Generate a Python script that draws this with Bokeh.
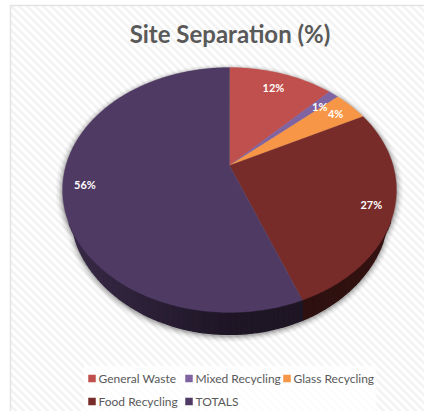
import math
from bokeh.embed import file_html
from bokeh.resources import INLINE
from bokeh.plotting import figure
from bokeh.core.properties import value

TITLE = "Site Separation (%)"
categories = ["General Waste", "Mixed Recycling", "Glass Recycling", "Food Recycling", "TOTALS"]
values = [12.3, 1.2, 4.0, 26.6, 55.9]
labels = ["12%", "1%", "4%", "27%", "56%"]
colors = ["#c0504d", "#8064a2", "#f79646", "#772c2a", "#4f3a63"]
label_radius = [0.82, 0.85, 0.86, 0.87, 0.87]
label_dy = [0, -3, 0, 0, 0]
legend_x = [88, 185, 283, 88, 185]
legend_y = [378, 378, 378, 401, 401]

X0, Y0, X1, Y1 = 0, 0, 424, 411
CX, CY, A, B, K, DEPTH = 229, 165, 163.6, 117.6, 0.2, 22
FONT = "Lato"


def project(r, frac):
    t = 2 * math.pi * frac
    u, v = r * math.sin(t), r * math.cos(t)
    d = 1 + K * v
    return CX + A * u / d, CY - B * v / d


def wall_depth(y):
    return DEPTH * math.sqrt(max(0.0, y - 235) / 77)


def shade(hex_color, f):
    c = [int(hex_color[i:i + 2], 16) for i in (1, 3, 5)]
    return "#%02x%02x%02x" % tuple(int(x * f) for x in c)


p = figure(width=X1 - X0, height=Y1 - Y0, x_range=(X0, X1), y_range=(Y1, Y0), output_backend="svg",
           toolbar_location=None, min_border=0, outline_line_color=None,
           background_fill_color="#ffffff", border_fill_color="#ffffff")
p.axis.visible = False
p.grid.visible = False

# striped chart background and border
LEFT, TOP = 10, 5
sx, sy = [], []
for c in range(-(Y1 - Y0) - 8, X1, 8):
    a = max(LEFT, TOP + c)
    b = min(X1, Y1 + c)
    if b > a:
        sx.append([a, b])
        sy.append([a - c, b - c])
p.multi_line(sx, sy, line_color="#f3f3f3", line_width=2.6)
p.multi_line([[LEFT, LEFT, X1]], [[Y1, TOP, TOP]], line_color="#e4e4e4", line_width=1.5)

# legend plate
p.quad(left=[83], right=[376], top=[365], bottom=[Y1], fill_color="#ffffff", fill_alpha=0.75, line_color=None)

# soft shadow below the side wall
N = 360
outline = [project(1, i / N) for i in range(N)]
for grow, alpha in [(7, 0.025), (5.5, 0.04), (4, 0.06), (2.5, 0.09), (1, 0.13)]:
    sc = 1 + grow / 167
    xs = [CX + (x - CX) * sc for x, y in outline]
    ys = [190 + (y + wall_depth(y) - 190) * sc + 1.5 for x, y in outline]
    p.patch(xs, ys, fill_color="#000000", fill_alpha=alpha, line_color=None)

total = sum(values)
wall_x, wall_y, wall_c = [], [], []
cum = 0.0
slices = []
for v, col in zip(values, colors):
    a0 = cum / total
    cum += v
    a1 = cum / total
    slices.append((a0, a1, col))
    steps = max(2, int((a1 - a0) * 240))
    for i in range(steps):
        f0 = a0 + (a1 - a0) * i / steps
        f1 = a0 + (a1 - a0) * (i + 1) / steps
        x0, y0 = project(1, f0)
        x1, y1 = project(1, f1)
        if max(y0, y1) < 225:
            continue
        t = ((x0 + x1) / 2 - 62) / 334
        f = 0.74 - 0.36 * min(t / 0.5, 1) if t < 0.75 else 0.38 + 0.3 * (t - 0.75)
        wall_x.append([x0, x1, x1, x0])
        wall_y.append([y0 - 3, y1 - 3, y1 + wall_depth(y1), y0 + wall_depth(y0)])
        wall_c.append(shade(col, f))
p.patches(wall_x, wall_y, fill_color=wall_c, line_color=wall_c, line_width=1.2)

# top face, drawn from the values
face_x, face_y, face_c = [], [], []
for a0, a1, col in slices:
    steps = max(4, int((a1 - a0) * 360))
    pts = [project(1, a0 + (a1 - a0) * i / steps) for i in range(steps + 1)]
    face_x.append([CX] + [q[0] for q in pts])
    face_y.append([CY] + [q[1] for q in pts])
    face_c.append(col)
p.patches(face_x, face_y, fill_color=face_c, line_color=face_c, line_width=0.3)

# data labels
lx, ly = [], []
for (a0, a1, col), r, dy in zip(slices, label_radius, label_dy):
    x, y = project(r, (a0 + a1) / 2)
    lx.append(x)
    ly.append(y - dy)
p.text(lx, ly, text=labels, text_color="#ffffff", text_font=value(FONT), text_font_style="bold",
       text_font_size="11px", text_align="center", text_baseline="middle")

# title
p.text([229.5], [33], text=[TITLE], text_color="#595959", text_font=value(FONT), text_font_style="bold",
       text_font_size="24px", text_align="center", text_baseline="middle")

# legend
p.scatter([x + 3.5 for x in legend_x], legend_y, marker="square", size=7.5, fill_color=colors, line_color=None)
p.text([x + 10 for x in legend_x], legend_y, text=categories, text_color="#595959",
       text_font=value(FONT), text_font_size="12px", text_align="left", text_baseline="middle")

open("out.html", "w").write(file_html(p, INLINE))
